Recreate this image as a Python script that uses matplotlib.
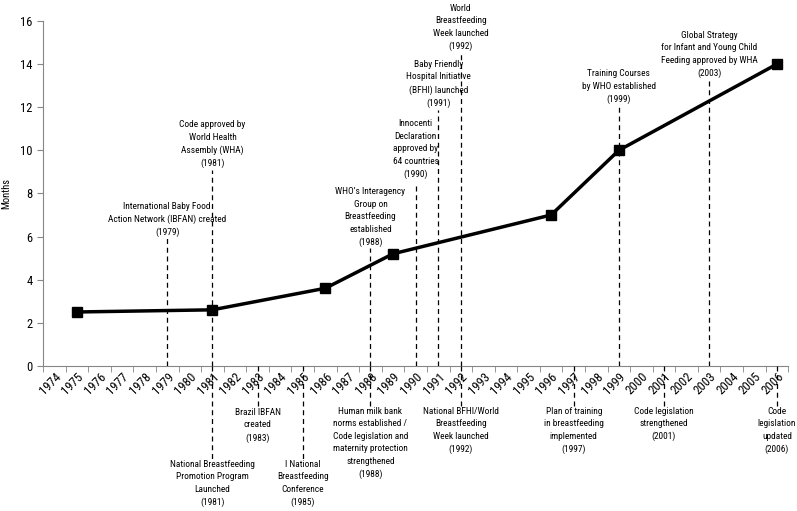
import matplotlib
matplotlib.use("Agg")
import matplotlib.pyplot as plt
from matplotlib import font_manager
import numpy as np

# median breastfeeding duration (months)
years = [1975, 1981, 1986, 1989, 1996, 1999, 2006]
months = [2.5, 2.6, 3.6, 5.2, 7.0, 10.0, 14.0]

tick_years = list(range(1974, 2007))

# events above the axis: year, label, text bottom (months)
upper_years = [1979, 1981, 1988, 1990, 1991, 1992, 1999, 2003]
upper_labels = [
    "International Baby Food\nAction Network (IBFAN) created\n(1979)",
    "Code approved by\nWorld Health\nAssembly (WHA)\n(1981)",
    "WHO\u2019s Interagency\nGroup on\nBreastfeeding\nestablished\n(1988)",
    "Innocenti\nDeclaration\napproved by\n64 countries\n(1990)",
    "Baby Friendly\nHospital Initiative\n(BFHI) launched\n(1991)",
    "World\nBreastfeeding\nWeek launched\n(1992)",
    "Training Courses\nby WHO established\n(1999)",
    "Global Strategy\nfor Infant and Young Child\nFeeding approved by WHA\n(2003)",
]
upper_text_y = [5.98, 9.18, 5.52, 8.67, 11.97, 14.6, 12.15, 13.36]
upper_line_y = [5.95, 9.1, 5.45, 8.35, 11.87, 14.5, 12.1, 13.3]

# events below the axis
lower_years = [1981, 1983, 1985, 1988, 1992, 1997, 2001, 2006]
lower_labels = [
    "National Breastfeeding\nPromotion Program\nLaunched\n(1981)",
    "Brazil IBFAN\ncreated\n(1983)",
    "I National\nBreastfeeding\nConference\n(1985)",
    "Human milk bank\nnorms established /\nCode legislation and\nmaternity protection\nstrengthened\n(1988)",
    "National BFHI/World\nBreastfeeding\nWeek launched\n(1992)",
    "Plan of training\nin breastfeeding\nimplemented\n(1997)",
    "Code legislation\nstrengthened\n(2001)",
    "Code\nlegislation\nupdated\n(2006)",
]
lower_text_y = [-4.36, -1.95, -4.36, -1.9, -1.9, -1.9, -1.9, -1.9]
lower_line_y = [-4.3, -1.9, -4.3, -1.85, -1.85, -1.85, -1.85, -1.85]

# pick a narrow font if one is there (the original uses a condensed face)
names = {f.name for f in font_manager.fontManager.ttflist}
fam = 'DejaVu Sans'
for n in ['Liberation Sans Narrow', 'Roboto Condensed', 'Open Sans Condensed',
          'Noto Sans Condensed']:
    if n in names:
        fam = n
        break
plt.rcParams['font.family'] = [fam, 'DejaVu Sans']

fig = plt.figure(figsize=(7.97, 5.11), dpi=100)
ax = fig.add_axes([0.054, 0.284, 0.935, 0.675])

# size the notes so they come out about as wide as in the original
r = fig.canvas.get_renderer()
t = fig.text(0, 0, "Action Network (IBFAN) created", fontsize=8)
w = t.get_window_extent(r).width
t.remove()
fs = min(8.0, 8.0 * 118 / w)
t1 = fig.text(0, 0, "Ag", fontsize=fs, linespacing=1.0)
t2 = fig.text(0, 0, "Ag\nAg\nAg", fontsize=fs, linespacing=1.0)
pitch = (t2.get_window_extent(r).height - t1.get_window_extent(r).height) / 2
t1.remove()
t2.remove()
ls = 13.4 / pitch

ax.plot(years, months, color='black', lw=2.5, marker='s', markersize=7, zorder=5)

for yr, lab, ty, ly in zip(upper_years, upper_labels, upper_text_y, upper_line_y):
    ax.plot([yr, yr], [0, ly], color='black', lw=0.9, ls=(0, (4, 3)), zorder=3)
    ax.text(yr, ty, lab, ha='center', va='bottom', fontsize=fs, linespacing=ls)

for yr, lab, ty, ly in zip(lower_years, lower_labels, lower_text_y, lower_line_y):
    ax.plot([yr, yr], [0, ly], color='black', lw=0.9, ls=(0, (4, 3)),
            clip_on=False, zorder=3)
    ax.text(yr, ty, lab, ha='center', va='top', fontsize=fs, linespacing=ls)

ax.set_xlim(1973.5, 2006.5)
ax.set_ylim(0, 16)
ax.set_yticks(np.arange(0, 17, 2))
ax.set_xticks(tick_years)
ax.set_xticklabels([str(y) for y in tick_years], rotation=45, ha='right',
                   rotation_mode='anchor', fontsize=(fs + 0.6) * 1.25)
ax.set_xticks(np.arange(1973.5, 2007, 1), minor=True)
ax.tick_params(axis='x', which='major', length=0, pad=3)
ax.tick_params(axis='x', which='minor', length=4, color='#868686')
ax.tick_params(axis='y', length=4, color='#868686', labelsize=9)
for s in ['top', 'right']:
    ax.spines[s].set_visible(False)
for s in ['left', 'bottom']:
    ax.spines[s].set_color('#868686')
ax.set_ylabel('Months', fontsize=fs + 0.8)
ax.yaxis.set_label_coords(-0.043, 0.5)

fig.savefig('out.png', dpi=100)
